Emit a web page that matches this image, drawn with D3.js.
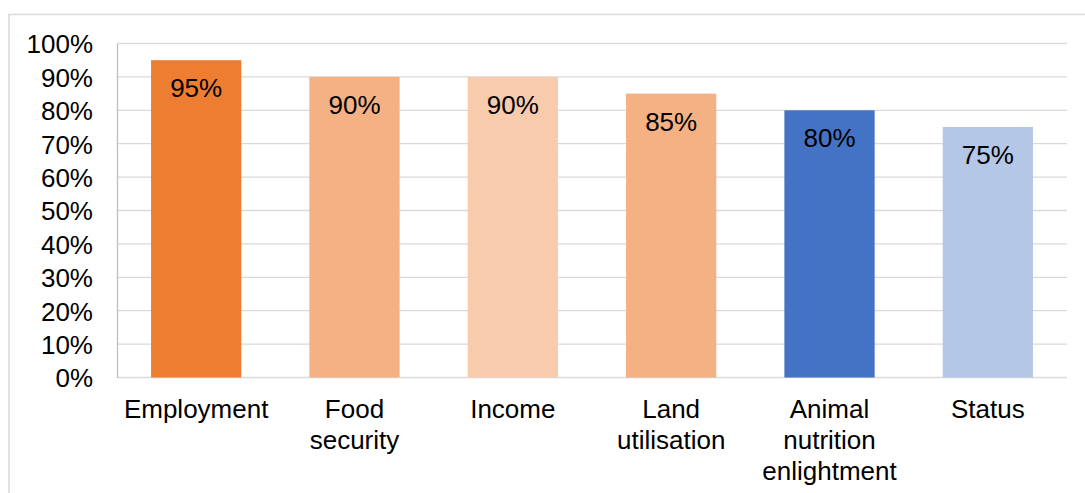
<!DOCTYPE html>
<html>
<head>
<meta charset="utf-8">
<script src="https://cdn.jsdelivr.net/npm/d3@7"></script>
<style>
  html, body { margin: 0; padding: 0; background: #fff; }
  svg { display: block; }
  text { font-family: "Liberation Sans", Arial, sans-serif; fill: #000; }
</style>
</head>
<body>
<svg id="chart" width="1085" height="493"></svg>
<script>
// Share of respondents reporting each benefit
const categories = [
  ["Employment"],
  ["Food", "security"],
  ["Income"],
  ["Land", "utilisation"],
  ["Animal", "nutrition", "enlightment"],
  ["Status"]
];
const values = [0.95, 0.90, 0.90, 0.85, 0.80, 0.75];
const barColors = ["#ED7D31", "#F4B183", "#F8CBAD", "#F4B183", "#4472C4", "#B4C7E7"];
const yTicks = [0, 0.1, 0.2, 0.3, 0.4, 0.5, 0.6, 0.7, 0.8, 0.9, 1.0];

const svg = d3.select("#chart");
const W = 1085, H = 493;
const plot = { left: 117, right: 1067, top: 43.5, bottom: 377.5 };
const fontSize = 26;

// chart frame
svg.append("path")
  .attr("d", `M9,${H} L9,14.5 L${W},14.5`)
  .attr("fill", "none")
  .attr("stroke", "#d9d9d9")
  .attr("stroke-width", 1.5);

const x = d3.scaleBand()
  .domain(d3.range(categories.length))
  .range([plot.left, plot.right])
  .paddingInner(0.43)
  .paddingOuter(0.215);

const y = d3.scaleLinear()
  .domain([0, 1])
  .range([plot.bottom, plot.top]);

const pct = d3.format(".0%");

// gridlines
svg.append("g")
  .selectAll("line")
  .data(yTicks)
  .join("line")
  .attr("x1", plot.left)
  .attr("x2", plot.right)
  .attr("y1", d => y(d))
  .attr("y2", d => y(d))
  .attr("stroke", "#d9d9d9")
  .attr("stroke-width", 1.3);

// y axis
const yAxis = svg.append("g")
  .attr("transform", `translate(${plot.left},0)`)
  .call(d3.axisLeft(y).tickValues(yTicks).tickFormat(pct).tickSize(0).tickPadding(24));
yAxis.select(".domain").attr("stroke", "#bfbfbf").attr("stroke-width", 1.3);
yAxis.selectAll("text")
  .attr("font-size", fontSize)
  .attr("font-family", "Liberation Sans, Arial, sans-serif")
  .attr("fill", "#000")
  .attr("dy", "0.36em");

// bars
svg.append("g")
  .selectAll("rect")
  .data(values)
  .join("rect")
  .attr("x", (d, i) => x(i))
  .attr("width", x.bandwidth())
  .attr("y", d => y(d))
  .attr("height", d => y(0) - y(d))
  .attr("fill", (d, i) => barColors[i]);

// value labels
svg.append("g")
  .selectAll("text")
  .data(values)
  .join("text")
  .attr("x", (d, i) => x(i) + x.bandwidth() / 2)
  .attr("y", d => y(d) + 37)
  .attr("text-anchor", "middle")
  .attr("font-size", fontSize)
  .text(d => pct(d));

// category labels
const xl = svg.append("g")
  .selectAll("text")
  .data(categories)
  .join("text")
  .attr("text-anchor", "middle")
  .attr("font-size", fontSize)
  .attr("x", (d, i) => x(i) + x.bandwidth() / 2)
  .attr("y", 418);
xl.selectAll("tspan")
  .data(d => d)
  .join("tspan")
  .attr("x", function () { return this.parentNode.getAttribute("x"); })
  .attr("dy", (d, i) => i === 0 ? 0 : 31)
  .text(d => d);
</script>
</body>
</html>
